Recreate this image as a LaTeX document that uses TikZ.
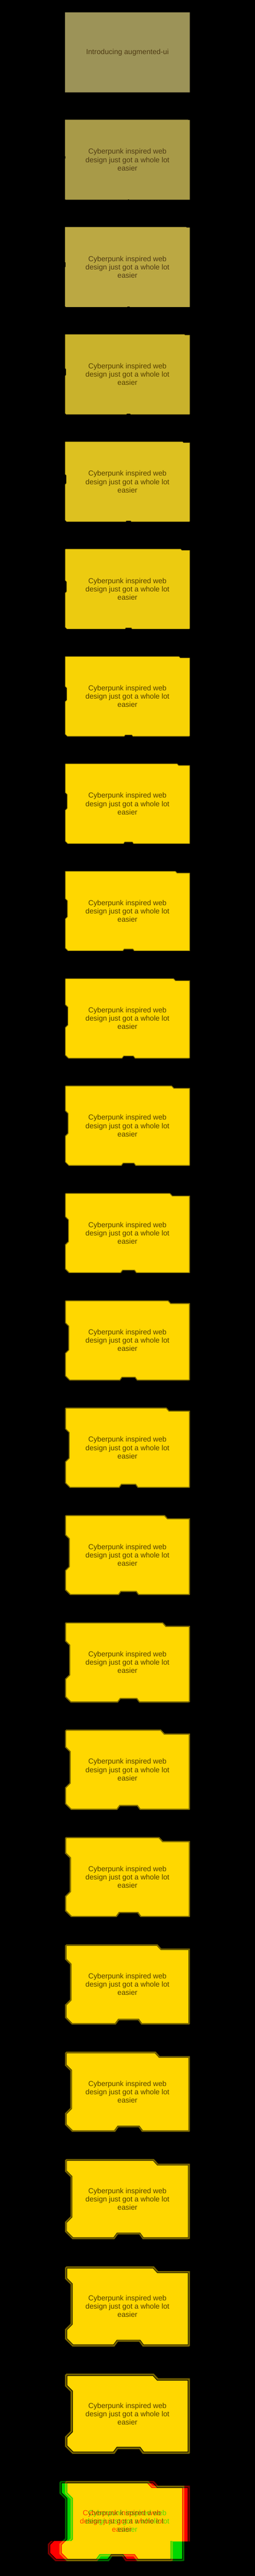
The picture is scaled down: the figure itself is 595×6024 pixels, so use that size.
\documentclass[tikz,border=0pt]{standalone}
\usepackage{fontspec}
\setmainfont{Liberation Sans}
\definecolor{f0}{HTML}{9C9358}
\definecolor{f1}{HTML}{A89A48}
\definecolor{f2}{HTML}{BBA843}
\definecolor{f3}{HTML}{C9B22C}
\definecolor{f4}{HTML}{DDC120}
\definecolor{f5}{HTML}{ECCB10}
\definecolor{f6}{HTML}{F8D305}
\definecolor{f7}{HTML}{FDD601}
\definecolor{gold}{HTML}{FFD700}
\definecolor{bord}{HTML}{7A6600}
\definecolor{txt}{HTML}{554000}
\definecolor{txtA}{HTML}{4F3B14}
\definecolor{gG}{HTML}{00D700}
\definecolor{gB}{HTML}{006600}
\definecolor{gT}{HTML}{004000}
\definecolor{rG}{HTML}{FF0000}
\definecolor{rB}{HTML}{7A0000}
\definecolor{rT}{HTML}{550000}
\newcounter{augn}
\newcommand\setaug[3]{%
 \pgfmathsetmacro\ax{#1}\pgfmathsetmacro\ay{#2}\pgfmathsetmacro\ap{#3}%
 \pgfmathsetmacro\aR{\ax+291}\pgfmathsetmacro\aB{\ay+187}%
 \pgfmathsetmacro\tlX{\ax+3*\ap}\pgfmathsetmacro\tlY{\ay+3*\ap}%
 \pgfmathsetmacro\trA{\aR-84*\ap}\pgfmathsetmacro\trB{\aR-74*\ap}\pgfmathsetmacro\trD{\ay+11*\ap}%
 \pgfmathsetmacro\brY{\aB-5*\ap}\pgfmathsetmacro\brX{\aR-5*\ap}%
 \pgfmathsetmacro\acx{\ax+148}%
 \pgfmathsetmacro\nA{\acx+33*\ap}\pgfmathsetmacro\nB{\acx+25*\ap}%
 \pgfmathsetmacro\nC{\acx-25*\ap}\pgfmathsetmacro\nD{\acx-33*\ap}\pgfmathsetmacro\nY{\aB-11*\ap}%
 \pgfmathsetmacro\blX{\ax+17*\ap}\pgfmathsetmacro\blY{\aB-17*\ap}%
 \pgfmathsetmacro\acy{\ay+88}%
 \pgfmathsetmacro\lA{\acy+59*\ap}\pgfmathsetmacro\lB{\acy+46*\ap}%
 \pgfmathsetmacro\lC{\acy-46*\ap}\pgfmathsetmacro\lD{\acy-59*\ap}\pgfmathsetmacro\lX{\ax+13*\ap}%
}
\newcommand\augpath[1]{\path[#1] (\tlX,\ay) -- (\trA,\ay) -- (\trB,\trD) -- (\aR,\trD) -- (\aR,\brY)
  .. controls (\aR,\aB) .. (\brX,\aB) -- (\nA,\aB) -- (\nB,\nY) -- (\nC,\nY) -- (\nD,\aB) -- (\blX,\aB)
  -- (\ax,\blY) -- (\ax,\lA) -- (\lX,\lB) -- (\lX,\lC) -- (\ax,\lD) -- (\ax,\tlY) -- cycle;}
\newcommand\augbox[9]{%
  \setaug{#1}{#2}{#3}%
  \augpath{fill=#6}%
  \ifdim #4pt>0pt
  \begin{scope}
    \augpath{clip}
    \ifdim #5pt>0pt \augpath{draw=black,line width={2*(#4+#5)}}\fi
    \augpath{draw=#7,line width={2*#4}}
  \end{scope}
  \fi
  \stepcounter{augn}%
  \node[boxtext,text=#8] (label\arabic{augn}) at (\ax+145.5,\ay+93.5) {#9};%
}
\newcommand\cybtxt{Cyberpunk inspired web\\design just got a whole lot\\easier}
\tikzset{boxtext/.style={font=\fontsize{17}{19.4}\selectfont, align=center, inner sep=0pt}}
\begin{document}
\begin{tikzpicture}[x=1pt,y=-1pt,line join=miter]
\fill[black] (0,0) rectangle (595,6024);
\useasboundingbox (0,0) rectangle (595,6024);
\augbox{152}{29}{0}{0}{0}{f0}{bord}{txtA}{Introducing augmented-ui}
\augbox{152}{280}{0.05}{0}{0}{f1}{bord}{txtA}{\cybtxt}
\augbox{152}{531}{0.10}{0}{0}{f2}{bord}{txtA}{\cybtxt}
\augbox{152}{782}{0.15}{0.175}{0}{f3}{bord}{txt}{\cybtxt}
\augbox{152}{1033}{0.20}{0.35}{0}{f4}{bord}{txt}{\cybtxt}
\augbox{152}{1284}{0.25}{0.525}{0}{f5}{bord}{txt}{\cybtxt}
\augbox{152}{1535}{0.30}{0.7}{0}{f6}{bord}{txt}{\cybtxt}
\augbox{152}{1786}{0.35}{0.875}{0}{f7}{bord}{txt}{\cybtxt}
\augbox{152}{2037}{0.40}{1.05}{0}{gold}{bord}{txt}{\cybtxt}
\augbox{152}{2288}{0.45}{1.225}{0}{gold}{bord}{txt}{\cybtxt}
\augbox{152}{2539}{0.50}{1.4}{0}{gold}{bord}{txt}{\cybtxt}
\augbox{152}{2790}{0.55}{1.575}{0}{gold}{bord}{txt}{\cybtxt}
\augbox{152}{3041}{0.60}{1.75}{0}{gold}{bord}{txt}{\cybtxt}
\augbox{152}{3292}{0.65}{1.925}{0}{gold}{bord}{txt}{\cybtxt}
\augbox{152}{3543}{0.70}{2.1}{0}{gold}{bord}{txt}{\cybtxt}
\augbox{152}{3794}{0.75}{2.275}{0}{gold}{bord}{txt}{\cybtxt}
\augbox{152}{4045}{0.80}{2.45}{0}{gold}{bord}{txt}{\cybtxt}
\augbox{152}{4296}{0.85}{2.625}{0}{gold}{bord}{txt}{\cybtxt}
\augbox{152}{4547}{0.90}{2.8}{0.2}{gold}{bord}{txt}{\cybtxt}
\augbox{152}{4798}{0.95}{2.975}{0.5}{gold}{bord}{txt}{\cybtxt}
\augbox{152}{5049}{1}{3.15}{0.8}{gold}{bord}{txt}{\cybtxt}
\augbox{152}{5300}{1}{3.325}{1.1}{gold}{bord}{txt}{\cybtxt}
\augbox{152}{5551}{1}{3.5}{1.5}{gold}{bord}{txt}{\cybtxt}
% glitch frame: green channel copy, red channel copy blended (screen)
\begin{scope}
  \augbox{139}{5802}{1}{3.5}{1.5}{gG}{gB}{gT}{\cybtxt}
\end{scope}
\begin{scope}[blend mode=screen]
  \begin{scope}[transparency group]
    \begin{scope}
      \clip (95,5795) rectangle (470,5943);
      \augbox{152}{5802}{1}{3.5}{1.5}{rG}{rB}{rT}{\cybtxt}
    \end{scope}
    \begin{scope}
      \clip (95,5943) rectangle (470,5995);
      \augbox{112}{5802}{1}{3.5}{1.5}{rG}{rB}{rT}{\cybtxt}
    \end{scope}
  \end{scope}
\end{scope}
\end{tikzpicture}
\end{document}
